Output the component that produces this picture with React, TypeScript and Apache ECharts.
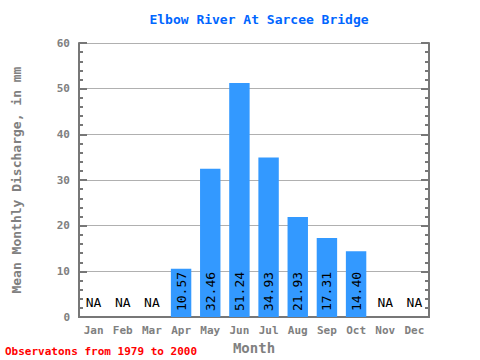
import React, { useEffect, useRef } from "react";
import * as echarts from "echarts";

const months = ["Jan", "Feb", "Mar", "Apr", "May", "Jun", "Jul", "Aug", "Sep", "Oct", "Nov", "Dec"];
const discharge: (number | null)[] = [null, null, null, 10.57, 32.46, 51.24, 34.93, 21.93, 17.31, 14.4, null, null];
const yTicks = [0, 10, 20, 30, 40, 50, 60];

const FONT = "'DejaVu Sans Mono', monospace";
const AXIS = "#777777";
const TXT = "#808080";

export default function App() {
  const ref = useRef<HTMLDivElement>(null);
  useEffect(() => {
    if (!ref.current) return;
    document.body.style.margin = "0";
    const chart = echarts.init(ref.current, null, { renderer: "svg" });
    const data = discharge.map((v) =>
      v == null
        ? {
            value: 0,
            label: {
              show: true,
              rotate: 0,
              position: "insideBottom",
              align: "center",
              verticalAlign: "bottom",
              distance: 8,
              fontSize: 13,
              formatter: "NA",
            },
          }
        : { value: v }
    );
    chart.setOption({
      animation: false,
      title: {
        text: "Elbow River At Sarcee Bridge",
        left: 254,
        textAlign: "center",
        top: 8,
        textStyle: { color: "#0066ff", fontFamily: FONT, fontWeight: "bold", fontSize: 13 },
      },
      grid: { left: 79, right: 51, top: 43, bottom: 39 },
      xAxis: [
        {
          type: "category",
          data: months,
          position: "bottom",
          boundaryGap: true,
          axisLine: { lineStyle: { color: AXIS, width: 2 } },
          axisTick: { inside: true, length: 7, lineStyle: { color: AXIS, width: 2 } },
          axisLabel: { color: TXT, fontFamily: FONT, fontWeight: "bold", fontSize: 11, margin: 8 },
          name: "Month",
          nameLocation: "middle",
          nameGap: 21,
          nameTextStyle: { color: TXT, fontFamily: FONT, fontWeight: "bold", fontSize: 14 },
        },
        {
          type: "category",
          data: months,
          position: "top",
          boundaryGap: true,
          axisLine: { lineStyle: { color: AXIS, width: 2 } },
          axisTick: { inside: true, length: 7, lineStyle: { color: AXIS, width: 2 } },
          axisLabel: { show: false },
        },
      ],
      yAxis: [
        {
          type: "value",
          min: yTicks[0],
          max: yTicks[yTicks.length - 1],
          interval: 10,
          position: "left",
          axisLine: { show: true, lineStyle: { color: AXIS, width: 2 } },
          axisTick: { show: true, inside: true, length: 8, lineStyle: { color: AXIS, width: 2 } },
          minorTick: { show: true, splitNumber: 5, length: 4, lineStyle: { color: AXIS, width: 2 } },
          splitLine: { show: true, lineStyle: { color: "#b0b0b0", width: 1 } },
          axisLabel: { color: TXT, fontFamily: FONT, fontWeight: "bold", fontSize: 11, margin: 9 },
          name: "Mean Monthly Discharge, in mm",
          nameLocation: "middle",
          nameGap: 56,
          nameTextStyle: { color: TXT, fontFamily: FONT, fontWeight: "bold", fontSize: 13 },
        },
        {
          type: "value",
          min: yTicks[0],
          max: yTicks[yTicks.length - 1],
          interval: 10,
          position: "right",
          axisLine: { show: true, lineStyle: { color: AXIS, width: 2 } },
          axisTick: { show: true, inside: true, length: 8, lineStyle: { color: AXIS, width: 2 } },
          minorTick: { show: true, splitNumber: 5, length: 4, lineStyle: { color: AXIS, width: 2 } },
          splitLine: { show: false },
          axisLabel: { show: false },
        },
      ],
      graphic: [
        {
          type: "text",
          left: 5,
          top: 346,
          style: {
            text: "Observatons from 1979 to 2000",
            fill: "#ff0000",
            font: `bold 11px ${FONT}`,
          },
        },
      ],
      series: [
        {
          type: "bar",
          data,
          barWidth: "70%",
          itemStyle: { color: "#3399ff" },
          label: {
            show: true,
            rotate: 90,
            position: "insideBottom",
            align: "left",
            verticalAlign: "middle",
            distance: 6,
            color: "#000000",
            fontFamily: FONT,
            fontSize: 13,
            formatter: (p: any) => Number(p.value).toFixed(2),
          },
        },
      ],
    });
    return () => chart.dispose();
  }, []);
  return <div ref={ref} style={{ width: 480, height: 360 }} />;
}
